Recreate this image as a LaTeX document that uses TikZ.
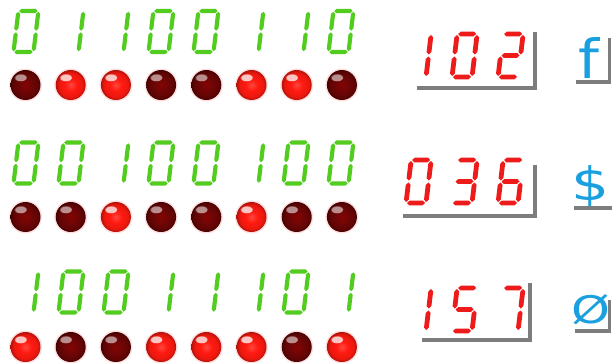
\documentclass[tikz,border=0pt]{standalone}
\usepackage{fontspec}
\usetikzlibrary{fadings}
\newfontfamily\glyphfont{DejaVu Sans}
\definecolor{segG}{HTML}{52CC1F}
\definecolor{segR}{HTML}{EE1B1B}
\definecolor{charC}{HTML}{1BA0DF}
\definecolor{shadeGray}{HTML}{7D7D7D}
\definecolor{ledOn}{HTML}{FF1A10}
\definecolor{ledOff}{HTML}{6E0505}
\pgfdeclareradialshading{ledOnShade}{\pgfpointorigin}{color(0bp)=(ledOn!80!white); color(10bp)=(ledOn); color(20bp)=(ledOn!92!black); color(25bp)=(ledOn!70!black); color(50bp)=(ledOn!70!black)}
\pgfdeclareradialshading{ledOffShade}{\pgfpointorigin}{color(0bp)=(ledOff!85!red); color(12bp)=(ledOff); color(21bp)=(ledOff!85!black); color(25bp)=(ledOff!60!black); color(50bp)=(ledOff!60!black)}
\tikzset{
  shadowbar/.style={draw=shadeGray, line width=3.6pt},
  charnode/.style={text=charC, inner sep=0pt, font=\glyphfont},
  ledhalo/.style={fill=red!12},
  ledhi/.style={fill=white, opacity=0.75, path fading=circle with fuzzy edge 20 percent},
}
\def\dz{a,b,c,d,e,f}
\def\dl{b,c}
\def\dtwo{a,b,g,e,d}
\def\dthree{a,b,g,c,d}
\def\dfive{a,f,g,c,d}
\def\dsix{a,f,g,e,d,c}
\def\dseven{a,b,c}
\newcommand\hseg[3]{\fill (#1,#3) -- (#1+\sgT/2,#3+\sgT/2) -- (#2-\sgT/2,#3+\sgT/2) -- (#2,#3) -- (#2-\sgT/2,#3-\sgT/2) -- (#1+\sgT/2,#3-\sgT/2) -- cycle;}
\newcommand\vseg[3]{\fill (#1,#2) -- (#1+\sgT/2,#2+\sgT/2) -- (#1+\sgT/2,#3-\sgT/2) -- (#1,#3) -- (#1-\sgT/2,#3-\sgT/2) -- (#1-\sgT/2,#2+\sgT/2) -- cycle;}
\def\sega{\hseg{\sgG}{\sgW-\sgG}{\sgH}}
\def\segb{\vseg{\sgW}{\sgM+\sgG}{\sgH-\sgG}}
\def\segc{\vseg{\sgW}{\sgG}{\sgM-\sgG}}
\def\segd{\hseg{\sgG}{\sgW-\sgG}{0}}
\def\sege{\vseg{0}{\sgG}{\sgM-\sgG}}
\def\segf{\vseg{0}{\sgM+\sgG}{\sgH-\sgG}}
\def\segg{\hseg{\sgG}{\sgW-\sgG}{\sgM}}
\newcommand\sdigit[4]{%
  \begin{scope}[shift={(#1,#2)},yscale=-1,xslant=-\sgS,fill=#4]
    \pgfmathsetmacro\sgM{\sgH/2}
    \foreach \s in #3 {\csname seg\s\endcsname}
  \end{scope}}
\newcommand\ledlamp[3]{%
  \fill[ledhalo] (#1,#2) circle (16.5pt);
  \ifnum#3=1
    \shade[shading=ledOnShade] (#1,#2) circle (15pt);
    \fill[ledhi] (#1-5,#2-7.5) ellipse (6.5pt and 4pt);
  \else
    \shade[shading=ledOffShade] (#1,#2) circle (15pt);
    \fill[ledhi, opacity=0.55] (#1-5,#2-7.5) ellipse (6.5pt and 4pt);
  \fi}
\newcommand\greenrow[3]{%
  \def\sgW{20}\def\sgH{41}\def\sgT{4.2}\def\sgG{0.8}\def\sgS{0.12}
  \foreach \b [count=\i from 0] in {#1} {
    \pgfmathsetmacro\xx{13.5+45*\i}
    \pgfmathsetmacro\lx{25.5+45.2*\i}
    \ledlamp{\lx}{#3}{\b}
    \ifnum\b=1
      \sdigit{\xx}{#2}{\dl}{segG}
    \else
      \sdigit{\xx}{#2}{\dz}{segG}
    \fi
  }}
\begin{document}
\begin{tikzpicture}[x=1pt,y=-1pt]
\fill[white] (0,0) rectangle (612,363);
\useasboundingbox (0,0) rectangle (612,363);
% green rows with LEDs
\greenrow{0,1,1,0,0,1,1,0}{52}{85}
\greenrow{0,0,1,0,0,1,0,0}{183.5}{217}
\greenrow{1,0,0,1,1,1,0,1}{312.5}{347}
% red decimal displays
\def\sgW{20}\def\sgH{43}\def\sgT{4.8}\def\sgG{1}\def\sgS{0.12}
\sdigit{406}{77}{\dl}{segR}
\sdigit{452}{77}{\dz}{segR}
\sdigit{498}{77}{\dtwo}{segR}
\sdigit{406}{203}{\dz}{segR}
\sdigit{452}{203}{\dthree}{segR}
\sdigit{498}{203}{\dsix}{segR}
\sdigit{406}{331}{\dl}{segR}
\sdigit{452}{331}{\dfive}{segR}
\sdigit{498}{331}{\dseven}{segR}
% display shadows
\draw[shadowbar] (417,88) -- (535,88) -- (535,32);
\draw[shadowbar] (403,216) -- (535,216) -- (535,165);
\draw[shadowbar] (422,340) -- (530,340) -- (530,283);
% character boxes
\node[charnode, font=\glyphfont\fontsize{54}{54}\selectfont, xscale=1.1] (chf) at (589,58) {f};
\node[charnode, font=\glyphfont\fontsize{46}{46}\selectfont, xscale=1.3] (chd) at (591,186) {\$};
\node[charnode, font=\glyphfont\fontsize{38}{38}\selectfont, xscale=1.3] (cho) at (591,310) {Ø};
\draw[shadowbar] (576,82) -- (609.5,82) -- (609.5,38);
\draw[shadowbar] (574,208) -- (612,208);
\draw[shadowbar] (575,331) -- (609.5,331) -- (609.5,300);
\end{tikzpicture}
\end{document}
